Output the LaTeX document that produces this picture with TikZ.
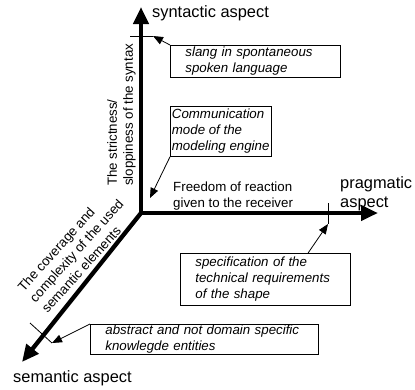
\documentclass[tikz,border=0pt]{standalone}
\usepackage{fontspec}
\setmainfont{Liberation Sans}
\usetikzlibrary{arrows.meta,positioning,calc}

\tikzset{
  bigtip/.tip={Triangle[length=17pt,width=15pt]},
  smalltip/.tip={Triangle[length=10pt,width=8pt]},
  aspectaxis/.style={line width=4.3pt},
  pointer/.style={line width=0.8pt, -smalltip},
  tickline/.style={line width=0.8pt},
  note/.style={draw, line width=0.8pt, font=\fontsize{13.3}{16}\selectfont\itshape,
    align=left, anchor=north west, inner xsep=15pt, inner ysep=0pt},
  axislabel/.style={font=\fontsize{16.4}{19}\selectfont, inner sep=0pt, anchor=west, align=left},
  dimlabel/.style={font=\fontsize{13.3}{16}\selectfont, inner sep=0pt, anchor=west, align=left}
}

\begin{document}
\begin{tikzpicture}[x=1pt,y=-1pt]
  \useasboundingbox (0,0) rectangle (415,389);

  % Axes
  \coordinate (O) at (141,213);
  \coordinate (synEnd) at (141,7);
  \coordinate (pragEnd) at (378,213);
  \coordinate (semEnd) at (22,362);
  \draw[aspectaxis, bigtip-bigtip] (synEnd) -- (O) -- (pragEnd);
  \draw[aspectaxis, -bigtip] (O) -- (semEnd);

  % Axis labels
  \node[axislabel] (syn) at (152,13.5) {syntactic aspect};
  \node[axislabel] (prag) at (340,194) {pragmatic\\aspect};
  \node[axislabel] (sem) at (13,378) {semantic aspect};

  % Dimension labels
  \node[dimlabel, rotate=90] (strict) at (121.5,186) {The strictness/\\sloppiness of the syntax};
  \node[dimlabel, rotate=48] (coverage) at (32,300) {The coverage and\\complexity of the used\\semantic elements};
  \node[dimlabel] (freedom) at (173,196) {Freedom of reaction\\given to the receiver};

  % Ticks on the axes
  \coordinate (synTick) at (153,36);
  \coordinate (pragTick) at (328,224);
  \coordinate (semTick) at (52,343);
  \coordinate (modeTip) at (150,198);
  \draw[tickline] (130,36) -- (synTick);
  \draw[tickline] (328,203) -- (pragTick);
  \draw[tickline] (30,323) -- (semTick);

  % Notes
  \node[note, text width=140pt, minimum height=32pt] (slang) at (170,45)
    {slang in spontaneous\\spoken language};
  \node[note, inner xsep=1.5pt, minimum height=50pt] (mode) at (170,106)
    {Communication\\mode of the\\modeling engine};
  \node[note, text width=140pt, minimum height=52pt] (spec) at (180,253)
    {specification of the\\technical requirements\\of the shape};
  \node[note, text width=198pt, minimum height=30pt] (abstract) at (90,324)
    {abstract and not domain specific\\knowlegde entities};

  % Pointers
  \draw[pointer] (slang.north west) -- (synTick);
  \draw[pointer] (mode.south west) -- (modeTip);
  \draw[pointer] ($(spec.north west)!0.75!(spec.north east)$) -- (pragTick);
  \draw[pointer] (abstract.north west) -- (semTick);
\end{tikzpicture}
\end{document}
